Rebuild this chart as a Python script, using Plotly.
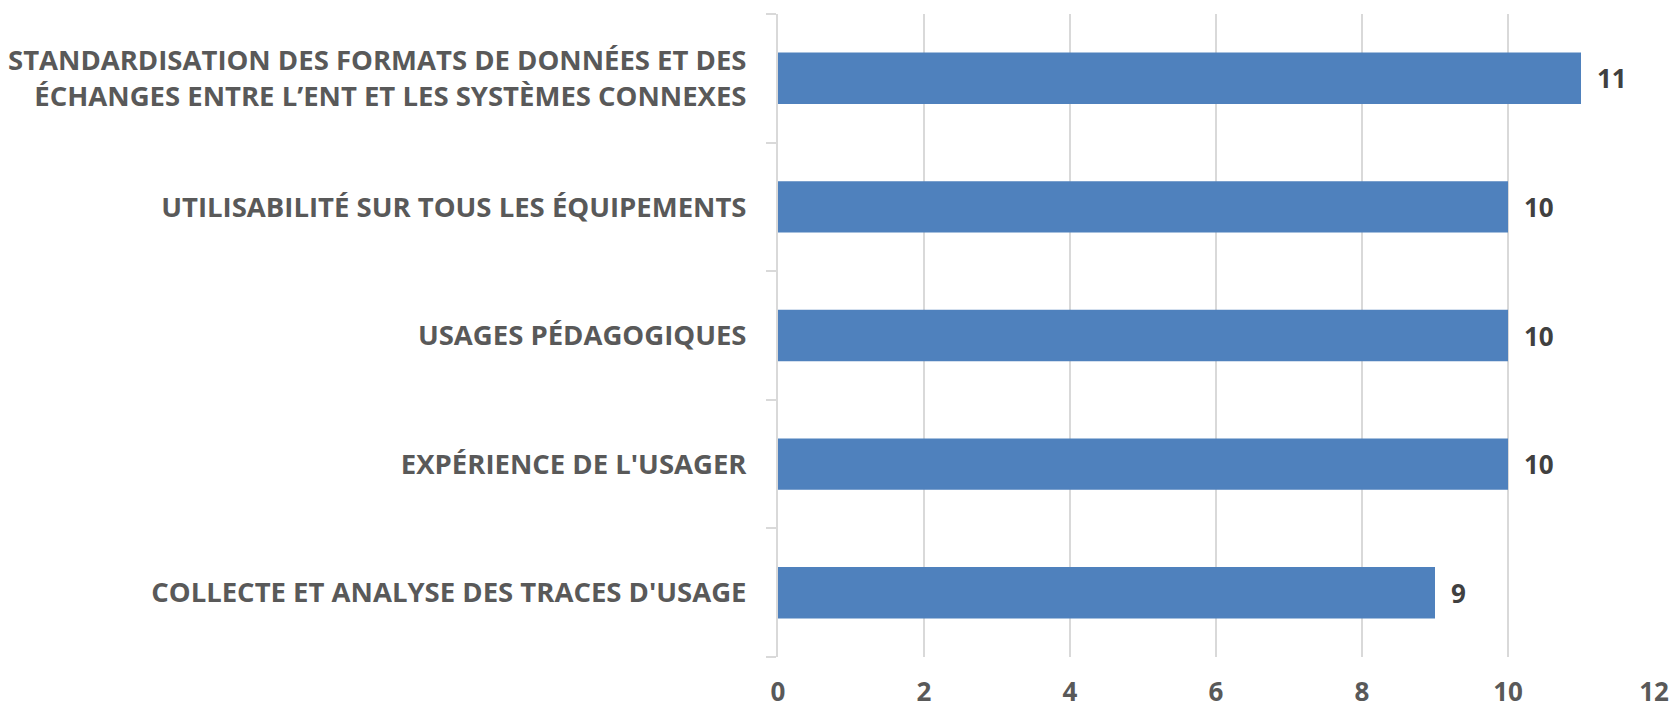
import plotly.graph_objects as go

categories = [
    "COLLECTE ET ANALYSE DES TRACES D'USAGE",
    "EXPÉRIENCE DE L'USAGER",
    "USAGES PÉDAGOGIQUES",
    "UTILISABILITÉ SUR TOUS LES ÉQUIPEMENTS",
    "STANDARDISATION DES FORMATS DE DONNÉES ET DES<br>ÉCHANGES ENTRE L’ENT ET LES SYSTÈMES CONNEXES",
]
values = [9, 10, 10, 10, 11]
x_ticks = [0, 2, 4, 6, 8, 10, 12]

FONT = "'Open Sans', sans-serif"

fig = go.Figure(go.Bar(
    x=values, y=categories, orientation="h",
    marker=dict(color="#4f81bd", line=dict(color="#4f81bd", width=0)),
    width=0.4,
    cliponaxis=False,
))

for v, c in zip(values, categories):
    fig.add_annotation(
        x=v, y=c, text=str(v), showarrow=False, xanchor="left", xshift=14,
        font=dict(family=FONT, size=26, color="#404040", weight="bold"),
    )

fig.update_layout(
    width=1673, height=709,
    margin=dict(l=778, r=19, t=14, b=52),
    plot_bgcolor="white", paper_bgcolor="white",
    showlegend=False,
    bargap=0.6,
    font=dict(family=FONT),
    xaxis=dict(
        range=[0, 12], tickvals=x_ticks, showgrid=True, gridcolor="#d9d9d9", gridwidth=2,
        zeroline=False, showline=False, ticks="",
        tickfont=dict(family=FONT, size=26, color="#595959", weight="bold"),
        ticklabelstandoff=17,
        automargin=False,
    ),
    yaxis=dict(
        showline=True, linecolor="#d9d9d9", linewidth=2,
        ticks="outside", ticklen=10, tickcolor="#d9d9d9", tickwidth=2,
        tickson="boundaries", showgrid=False,
        tickfont=dict(family=FONT, size=27.5, color="#595959", weight="bold"),
        ticklabelstandoff=24,
        automargin=False,
    ),
)

fig.write_html("out.html", config={"displayModeBar": False},
               post_script="document.body.style.margin='0';")
